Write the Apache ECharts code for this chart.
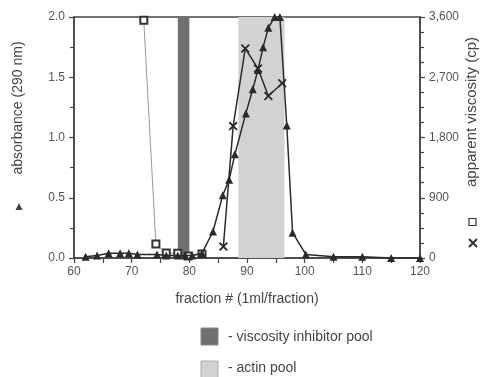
<!DOCTYPE html>
<html>
<head>
<meta charset="utf-8">
<script src="https://cdn.jsdelivr.net/npm/echarts@6/dist/echarts.min.js"></script>
<style>html,body{margin:0;padding:0;background:#fff}#c{width:485px;height:377px}</style>
</head>
<body>
<div id="c"></div>
<script>
// absorbance (290 nm), triangles
var absFraction = [62,64,66,68,69.5,71,74.4,76,78,79.3,80.5,82.2,84.1,85.8,86.9,87.9,89.8,91,91.9,92.8,93.7,94.8,95.7,96.9,97.9,100.2,105,110,115,120];
var absValue    = [0.01,0.02,0.04,0.04,0.04,0.03,0.03,0.02,0.02,0.02,0.02,0.04,0.22,0.52,0.65,0.86,1.20,1.40,1.56,1.75,1.91,2.0,2.0,1.10,0.21,0.03,0.01,0.01,0.0,0.0];
// apparent viscosity (cp), squares
var sqFraction = [72.1,74.2,76,78,79.8,82.2];
var sqValue    = [3550,210,75,70,30,60];
// apparent viscosity (cp), crosses
var crFraction = [85.9,87.6,89.7,91.9,93.7,96.1];
var crValue    = [170,1970,3130,2830,2420,2610];
// pools
var inhibitorPool = [78, 80];
var actinPool = [88.5, 96.5];
var legendLabels = ['- viscosity inhibitor pool', '- actin pool'];

function pairs(xs, ys){ return xs.map(function(x,i){ return [x, ys[i]]; }); }
var axisCol = '#444', textCol = '#555';
var crossPath = 'path://M0,1.4L1.4,0L5,3.6L8.6,0L10,1.4L6.4,5L10,8.6L8.6,10L5,6.4L1.4,10L0,8.6L3.6,5Z';

var chart = echarts.init(document.getElementById('c'), null, {renderer:'canvas'});
chart.setOption({
  animation:false,
  grid:{left:74,right:65,top:17,bottom:119,show:true,borderColor:axisCol,borderWidth:1.5,backgroundColor:'transparent'},
  xAxis:{type:'value',min:60,max:120,interval:10,
    axisLine:{lineStyle:{color:axisCol,width:1.5}},
    axisTick:{length:5,lineStyle:{color:axisCol,width:1.2}},
    minorTick:{show:true,splitNumber:2,length:5,lineStyle:{color:axisCol,width:1.2}},
    splitLine:{show:false},
    axisLabel:{color:textCol,fontSize:12,fontFamily:'Liberation Sans, Arial',margin:8},
    name:'fraction # (1ml/fraction)',nameLocation:'middle',nameGap:34,
    nameTextStyle:{color:'#444',fontSize:14,fontFamily:'Liberation Sans, Arial'}},
  yAxis:[
    {type:'value',min:0,max:2,interval:0.5,
     axisLine:{show:true,lineStyle:{color:axisCol,width:1.5}},
     axisTick:{show:true,length:5,lineStyle:{color:axisCol,width:1.2}},
     minorTick:{show:true,splitNumber:2,length:4,lineStyle:{color:axisCol,width:1.2}},
     splitLine:{show:false},
     axisLabel:{color:textCol,fontSize:12,fontFamily:'Liberation Sans, Arial',margin:9,formatter:function(v){return v.toFixed(1);}}},
    {type:'value',min:0,max:3600,interval:900,position:'right',
     axisLine:{show:true,lineStyle:{color:axisCol,width:1.5}},
     axisTick:{show:true,length:5,lineStyle:{color:axisCol,width:1.2}},
     minorTick:{show:true,splitNumber:4,length:4,lineStyle:{color:axisCol,width:1.2}},
     splitLine:{show:false},
     axisLabel:{color:textCol,fontSize:12,fontFamily:'Liberation Sans, Arial',margin:9,
       formatter:function(v){return v>=1000?Math.floor(v/1000)+','+String(v%1000).padStart(3,'0'):String(v);}}}
  ],
  series:[
    {type:'line',yAxisIndex:1,data:pairs(sqFraction,sqValue),
     symbol:'emptyRect',symbolSize:7,lineStyle:{color:'#999',width:1},
     itemStyle:{color:'#333',borderColor:'#333',borderWidth:1.2},z:3,
     markArea:{silent:true,data:[
       [{xAxis:inhibitorPool[0],itemStyle:{color:'#707070'}},{xAxis:inhibitorPool[1]}],
       [{xAxis:actinPool[0],itemStyle:{color:'#d2d2d2'}},{xAxis:actinPool[1]}]
     ]}},
    {type:'line',yAxisIndex:0,data:pairs(absFraction,absValue),
     symbol:'triangle',symbolSize:8,lineStyle:{color:'#2a2a2a',width:1.5},
     itemStyle:{color:'#2a2a2a'},z:4},
    {type:'line',yAxisIndex:1,data:pairs(crFraction,crValue),
     symbol:crossPath,symbolSize:9,lineStyle:{color:'#2a2a2a',width:1.5},
     itemStyle:{color:'#2a2a2a'},z:5}
  ],
  graphic:[
    {type:'text',x:18,y:108,rotation:Math.PI/2,
     style:{text:'absorbance (290 nm)',fill:'#444',fontSize:14,fontFamily:'Liberation Sans, Arial',align:'center',verticalAlign:'middle'}},
    {type:'polygon',shape:{points:[[19,203],[22.5,210],[15.5,210]]},style:{fill:'#444'}},
    {type:'text',x:472,y:112,rotation:Math.PI/2,
     style:{text:'apparent viscosity (cp)',fill:'#444',fontSize:15,fontFamily:'Liberation Sans, Arial',align:'center',verticalAlign:'middle'}},
    {type:'rect',shape:{x:469,y:218.5,width:7,height:7},style:{fill:'#fff',stroke:'#333',lineWidth:1.2}},
    {type:'line',shape:{x1:469,y1:239,x2:477,y2:247},style:{stroke:'#333',lineWidth:2}},
    {type:'line',shape:{x1:477,y1:239,x2:469,y2:247},style:{stroke:'#333',lineWidth:2}},
    {type:'rect',shape:{x:201,y:328,width:17,height:17},style:{fill:'#707070',stroke:'#888',lineWidth:1}},
    {type:'text',x:228,y:337,style:{text:legendLabels[0],fill:'#444',fontSize:14,fontFamily:'Liberation Sans, Arial',verticalAlign:'middle'}},
    {type:'rect',shape:{x:201,y:361,width:17,height:17},style:{fill:'#d2d2d2',stroke:'#aaa',lineWidth:1}},
    {type:'text',x:228,y:368,style:{text:legendLabels[1],fill:'#444',fontSize:14,fontFamily:'Liberation Sans, Arial',verticalAlign:'middle'}}
  ]
});
</script>
</body>
</html>
